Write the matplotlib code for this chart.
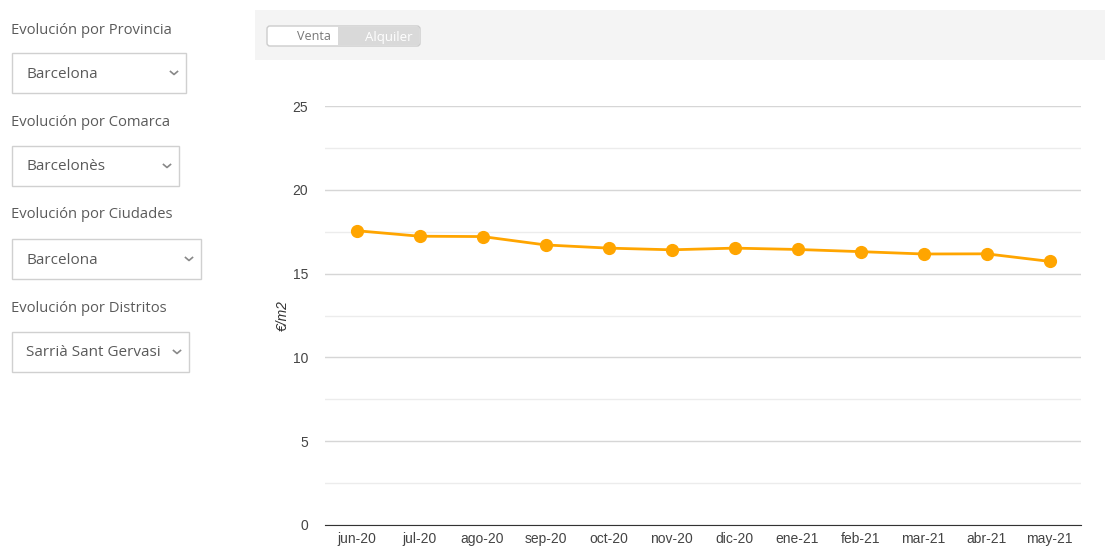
import matplotlib.pyplot as plt
from matplotlib.patches import Rectangle, FancyBboxPatch

months = ["jun-20", "jul-20", "ago-20", "sep-20", "oct-20", "nov-20",
          "dic-20", "ene-21", "feb-21", "mar-21", "abr-21", "may-21"]
precio_m2 = [17.56, 17.23, 17.21, 16.71, 16.52, 16.42,
             16.52, 16.44, 16.31, 16.17, 16.18, 15.73]

filter_labels = ["Evolución por Provincia", "Evolución por Comarca",
                 "Evolución por Ciudades", "Evolución por Distritos"]
filter_values = ["Barcelona", "Barcelonès", "Barcelona", "Sarrià Sant Gervasi"]
toggle_labels = ["Venta", "Alquiler"]

W, H = 1105, 554
fig = plt.figure(figsize=(W / 100, H / 100), dpi=100)
fig.patch.set_facecolor("white")

# page layer in pixel coords
bg = fig.add_axes([0, 0, 1, 1])
bg.set_xlim(0, W)
bg.set_ylim(H, 0)
bg.axis("off")

ui_font = "Open Sans"
label_y = [30, 123, 215, 309]
box_y = [53, 146, 239, 332]
box_w = [174, 167, 189, 177]
for lab, val, ly, by, bw in zip(filter_labels, filter_values, label_y, box_y, box_w):
    bg.text(11, ly, lab, fontsize=10.6, color="#5a5a5a", family=ui_font, va="center")
    bg.add_patch(Rectangle((12, by), bw, 40, facecolor="white",
                           edgecolor="#d0d0d0", lw=1))
    bg.text(26, by + 21, val, fontsize=11, color="#5a5a5a", family=ui_font, va="center")
    cx = 12 + bw - 12
    bg.plot([cx - 3.5, cx, cx + 3.5], [by + 18.5, by + 21.5, by + 18.5],
            color="#888888", lw=1.2)

# top bar of chart panel
bg.add_patch(Rectangle((255, 10), W - 255, 50, facecolor="#f4f4f4", edgecolor="none"))
bg.add_patch(FancyBboxPatch((267, 26), 153, 20, boxstyle="round,pad=0,rounding_size=3",
                            facecolor="white", edgecolor="#cccccc", lw=1))
bg.add_patch(Rectangle((338, 27), 81, 18, facecolor="#d9d9d9", edgecolor="none"))
bg.text(331, 37, toggle_labels[0], fontsize=9, color="#777777", family=ui_font,
        ha="right", va="center")
bg.text(413, 37, toggle_labels[1], fontsize=9.5, color="white", family=ui_font,
        ha="right", va="center")

# chart
ax = fig.add_axes([325 / W, 29 / H, (1081 - 325) / W, (525 - 106) / H])
x = list(range(len(months)))
ax.plot(x, precio_m2, color="#FFA500", lw=2, marker="o", markersize=8.5, zorder=3)
ax.set_xlim(-0.5, len(months) - 0.5)
ax.set_ylim(0, 25)
ax.set_yticks([0, 5, 10, 15, 20, 25])
ax.set_yticks([2.5, 7.5, 12.5, 17.5, 22.5], minor=True)
ax.set_xticks(x)
ax.set_xticklabels(months)
ax.grid(axis="y", which="major", color="#d6d6d6", lw=1)
ax.grid(axis="y", which="minor", color="#ececec", lw=1)
ax.set_axisbelow(True)
for s in ["top", "right", "left"]:
    ax.spines[s].set_visible(False)
ax.spines["bottom"].set_color("#333333")
ax.tick_params(axis="both", which="both", length=0, labelsize=10, labelcolor="#444444")
ax.tick_params(axis="y", pad=12)
ax.tick_params(axis="x", pad=5)
for t in ax.get_xticklabels() + ax.get_yticklabels():
    t.set_family("Liberation Sans")
ax.set_ylabel("€/m2", fontsize=10, family="Liberation Sans", style="italic",
              color="#333333", labelpad=2)

fig.savefig("out.png", dpi=100)
